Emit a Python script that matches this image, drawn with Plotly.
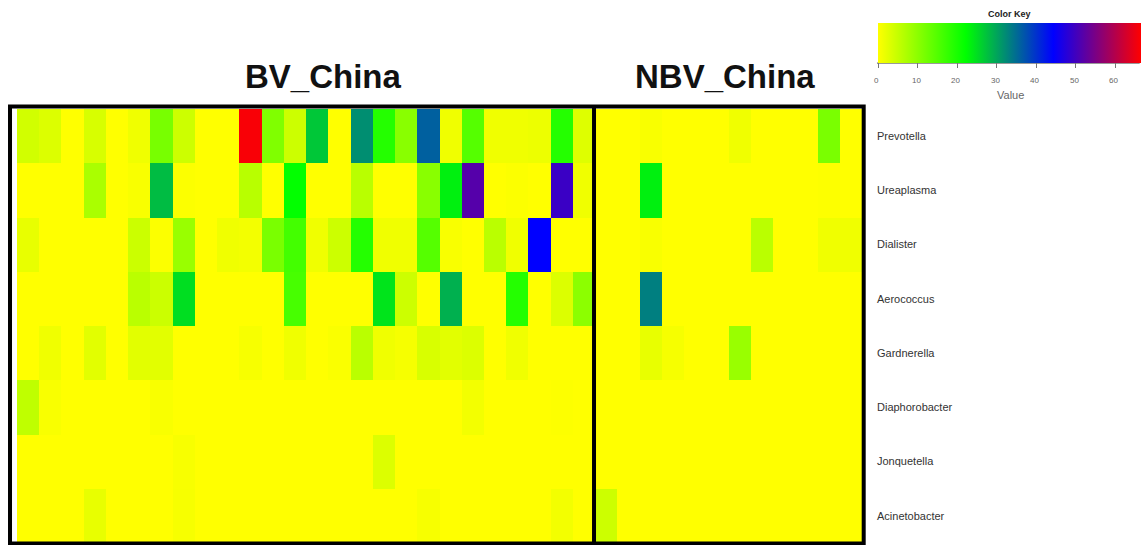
import plotly.graph_objects as go

genera = ["Prevotella", "Ureaplasma", "Dialister", "Aerococcus",
          "Gardnerella", "Diaphorobacter", "Jonquetella", "Acinetobacter"]
group_labels = ["BV_China", "NBV_China"]
n_bv, n_nbv = 26, 12

prevotella_bv = [4, 3, 0, 3.5, 0, 1.3, 11.7, 4.4, 0, 0, 66, 11, 4.4, 27, 0, 32, 19, 10.3, 36, 1.3, 14.8, 1.3, 1.3, 1.6, 19, 2.9]
prevotella_nbv = [0, 0, 0.5, 0, 0, 0, 1.3, 0, 0, 0, 11.6, 0]
ureaplasma_bv = [0, 0, 0, 7.4, 0, 0.5, 28, 0.3, 0, 0, 6.2, 0, 22, 0, 0, 6.1, 0, 0, 10.3, 23.5, 51.7, 0, 0.3, 0, 49.4, 1.3]
ureaplasma_nbv = [0, 0, 23.5, 0, 0, 0, 0, 0, 0, 0, 0.2, 0]
dialister_bv = [2, 0, 0, 0, 0, 4.5, 0.3, 8.9, 0, 1.3, 1, 11.6, 16.3, 1.3, 4.4, 19, 1.3, 1.3, 14.8, 0.5, 0, 6, 1.3, 44.3, 0, 0]
dialister_nbv = [0, 0, 0.5, 0, 0, 0, 0, 6, 0, 0, 1.3, 1.3]
aerococcus_bv = [0, 0, 0, 0, 0, 6, 4.5, 25, 0, 0, 0, 0, 16, 0, 0, 0, 24.5, 4.4, 0, 29, 0, 0, 19, 0, 3, 10]
aerococcus_nbv = [0, 0, 33.3, 0, 0, 0, 0, 0, 0, 0, 0, 0]
gardnerella_bv = [0, 1.3, 0, 2.5, 0, 2.5, 2.5, 0, 0, 0, 0.7, 0, 1.3, 0, 0.4, 6, 1.3, 0.8, 3.4, 2.5, 3, 0, 1.3, 0, 0, 0]
gardnerella_nbv = [0, 0, 2, 0.8, 0, 0, 8.9, 0, 0, 0, 0, 0]
diaphorobacter_bv = [5.6, 0.5, 0, 0, 0, 0, 0.5, 0, 0, 0, 0, 0, 0, 0, 0, 0, 0, 0, 0, 0, 1, 0, 0, 0, 0.2, 0]
diaphorobacter_nbv = [0, 0, 0, 0, 0, 0, 0, 0, 0, 0, 0, 0]
jonquetella_bv = [0, 0, 0, 0, 0, 0, 0, 0.6, 0, 0, 0, 0, 0, 0, 0, 0, 3, 0, 0, 0, 0, 0, 0, 0, 0, 0]
jonquetella_nbv = [0, 0, 0, 0, 0, 0, 0, 0, 0, 0, 0, 0]
acinetobacter_bv = [0, 0, 0, 2, 0, 0, 0, 0.7, 0, 0, 0, 0, 0, 0, 0, 0, 0, 0, 0.7, 0, 0, 0, 0, 0, 1, 0]
acinetobacter_nbv = [4.4, 0, 0, 0, 0, 0, 0, 0, 0, 0, 0, 0]

key_ticks = [0, 10, 20, 30, 40, 50, 60]
zmax = 66.5

z = [
    prevotella_bv + prevotella_nbv,
    ureaplasma_bv + ureaplasma_nbv,
    dialister_bv + dialister_nbv,
    aerococcus_bv + aerococcus_nbv,
    gardnerella_bv + gardnerella_nbv,
    diaphorobacter_bv + diaphorobacter_nbv,
    jonquetella_bv + jonquetella_nbv,
    acinetobacter_bv + acinetobacter_nbv,
]
samples = list(range(n_bv + n_nbv))

W, H = 1141, 545
L, R, T, B = 17, 863, 108.5, 543.5
KEY_X0, KEY_LEN = 878, 263


def px(x):
    return (x - L) / (R - L)


def py(y):
    return (B - y) / (B - T)


fig = go.Figure(go.Heatmap(
    z=z, x=samples, y=genera,
    zmin=0, zmax=zmax,
    colorscale=[[0, "#ffff00"], [1 / 3, "#00ff00"], [2 / 3, "#0000ff"], [1, "#ff0000"]],
    xgap=0, ygap=0,
    colorbar=dict(
        orientation="h",
        xref="paper", yref="paper",
        x=px(KEY_X0), xanchor="left",
        y=py(22), yanchor="top",
        len=KEY_LEN, lenmode="pixels",
        thickness=40, thicknessmode="pixels",
        xpad=0, ypad=0,
        outlinewidth=0,
        ticks="outside", ticklen=5, tickwidth=1, tickcolor="#777",
        tickvals=key_ticks, showticklabels=False,
    ),
))

fig.update_xaxes(showticklabels=False, showgrid=False, zeroline=False,
                 range=[-0.5, n_bv + n_nbv - 0.5], ticks="")
fig.update_yaxes(autorange="reversed", side="right", showgrid=False, zeroline=False,
                 ticks="", ticklabelstandoff=14,
                 tickfont=dict(size=11, color="#333", family="Liberation Sans, Arial"))

line = dict(color="black", width=4)
shapes = [
    dict(type="rect", xref="paper", yref="paper",
         x0=px(10), x1=px(864.7), y0=py(544), y1=py(106), line=line),
    dict(type="line", xref="paper", yref="paper",
         x0=px(594.7), x1=px(594.7), y0=py(544), y1=py(106), line=line),
    dict(type="line", xref="paper", yref="paper",
         x0=px(KEY_X0), x1=px(KEY_X0 + KEY_LEN), y0=py(62.5), y1=py(62.5),
         line=dict(color="#555", width=1)),
]

font = "Liberation Sans, Arial"
annotations = [
    dict(text="<b>" + group_labels[0] + "</b>", x=px(323.5), y=py(76), xref="paper", yref="paper",
         showarrow=False, xanchor="center", yanchor="middle",
         font=dict(size=33, color="#111", family=font)),
    dict(text="<b>" + group_labels[1] + "</b>", x=px(726), y=py(76), xref="paper", yref="paper",
         showarrow=False, xanchor="center", yanchor="middle",
         font=dict(size=33, color="#111", family=font)),
    dict(text="<b>Color Key</b>", x=px(1011), y=py(13), xref="paper", yref="paper",
         showarrow=False, xanchor="center", yanchor="middle",
         font=dict(size=9, color="#222", family=font)),
    dict(text="Value", x=px(1012), y=py(94), xref="paper", yref="paper",
         showarrow=False, xanchor="center", yanchor="middle",
         font=dict(size=11, color="#666", family=font)),
]
for t in key_ticks:
    annotations.append(dict(
        text=str(t), x=px(KEY_X0 + KEY_LEN * t / zmax), y=py(80),
        xref="paper", yref="paper", showarrow=False,
        xanchor="center", yanchor="middle",
        font=dict(size=8, color="#666", family=font)))

fig.update_layout(
    width=W, height=H,
    margin=dict(l=L, r=W - R, t=T, b=H - B, pad=0),
    paper_bgcolor="white", plot_bgcolor="white",
    shapes=shapes, annotations=annotations,
    showlegend=False,
)

fig.write_html("out.html", config={"displayModeBar": False},
               post_script="document.body.style.margin='0px';")
